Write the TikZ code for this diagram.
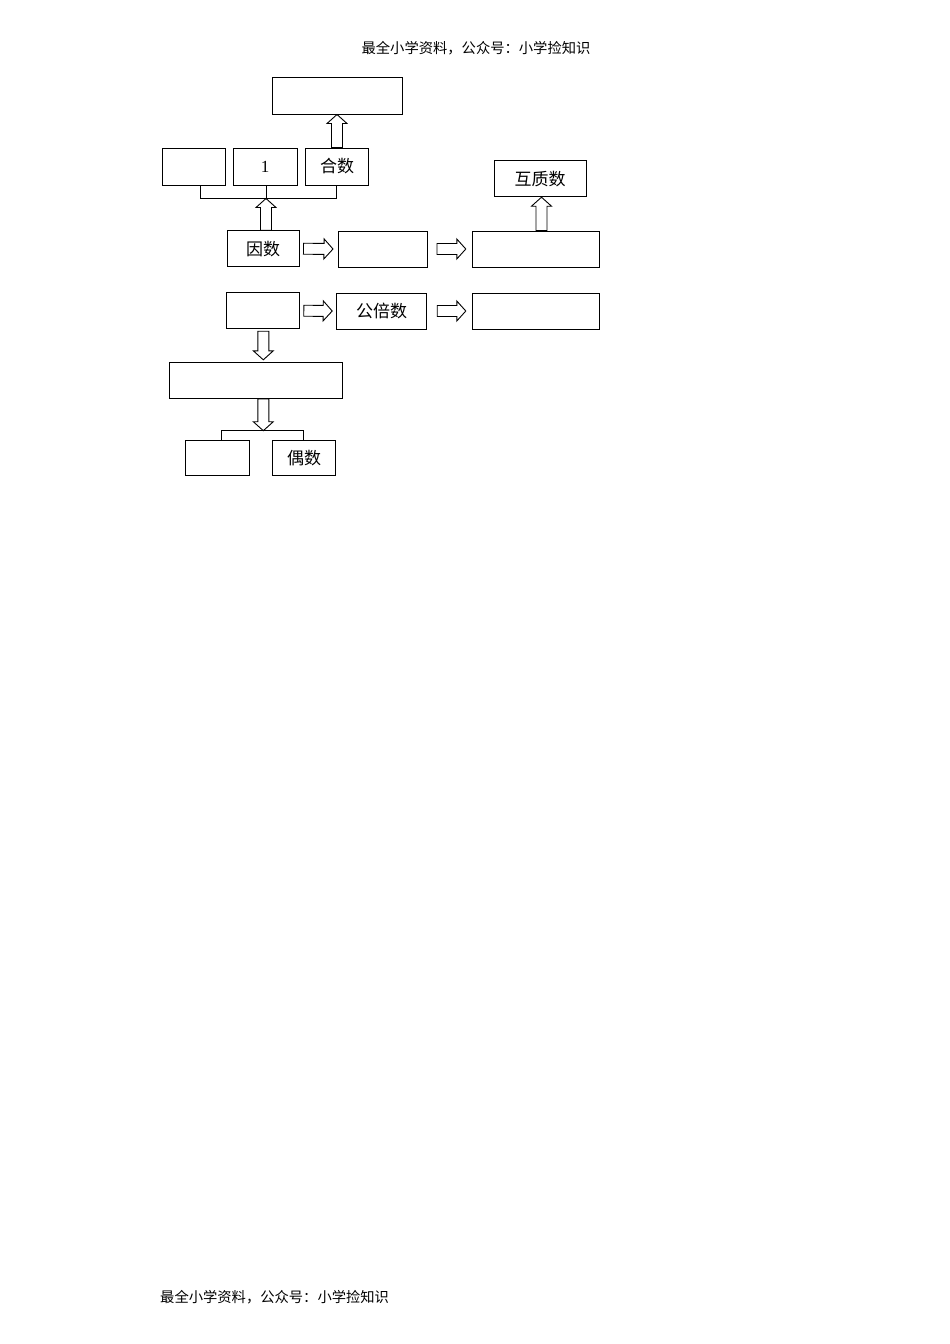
\documentclass[tikz,border=0pt]{standalone}
\usepackage{fontspec}
\newfontfamily\cjk{Noto Sans CJK SC}
\newfontfamily\serifnum{Liberation Serif}
\usetikzlibrary{calc}
\tikzset{
  box/.style={draw, line width=1pt, inner sep=0pt, font=\cjk\fontsize{17}{20}\selectfont},
  harrowline/.style={draw, line width=0.9pt, line join=miter},
  link/.style={draw, line width=1pt},
  hdr/.style={font=\cjk\fontsize{14.3}{17}\selectfont, inner sep=0pt}
}
\newcommand\hollowarr[2]{%
  \coordinate (hA) at (#1);
  \coordinate (hB) at (#2);
  \coordinate (hH) at ($(hB)!9pt!(hA)$);
  \path[harrowline] ($(hA)!5.5pt!90:(hB)$) -- ($(hH)!5.5pt!90:(hB)$) -- ($(hH)!10pt!90:(hB)$) -- (hB)
     -- ($(hH)!10pt!-90:(hB)$) -- ($(hH)!5.5pt!-90:(hB)$) -- ($(hA)!5.5pt!-90:(hB)$) -- cycle;
}
\begin{document}
\begin{tikzpicture}[x=1pt,y=-1pt]
\useasboundingbox (0,0) rectangle (950,1344);
\node[hdr] (h1) at (476,48) {最全小学资料，公众号：小学捡知识};
\node[hdr, anchor=west] (h2) at (160,1297) {最全小学资料，公众号：小学捡知识};

\node[box, minimum width=130pt, minimum height=37pt] (top) at (337,95.5) {};
\node[box, minimum width=63pt, minimum height=37pt] (nA) at (193.5,166.5) {};
\node[box, minimum width=64pt, minimum height=37pt] (n1) at (265,166.5) {\serifnum\fontsize{17}{20}\selectfont 1};
\node[box, minimum width=63pt, minimum height=37pt] (heshu) at (337,166.5) {合数};
\node[box, minimum width=92pt, minimum height=36pt] (hz) at (540,178.7) {互质数};
\node[box, minimum width=72pt, minimum height=36pt] (yinshu) at (263,248.7) {因数};
\node[box, minimum width=89pt, minimum height=36pt] (b2) at (383,249) {};
\node[box, minimum width=127pt, minimum height=36pt] (b3) at (535.8,249) {};
\node[box, minimum width=72.6pt, minimum height=36pt] (c1) at (263,310.7) {};
\node[box, minimum width=90pt, minimum height=36pt] (gbs) at (381.7,311) {公倍数};
\node[box, minimum width=127pt, minimum height=36pt] (c3) at (535.8,311) {};
\node[box, minimum width=172.7pt, minimum height=36pt] (big) at (256.3,380.3) {};
\node[box, minimum width=63.6pt, minimum height=35pt] (d1) at (217.5,457.7) {};
\node[box, minimum width=63.4pt, minimum height=35pt] (os) at (304,457.7) {偶数};

% top bracket
\coordinate (bj) at (266,198.5);
\coordinate (bl) at (200.3,198.5);
\coordinate (br) at (336.7,198.5);
\draw[link] (bl |- nA.south) -- (bl) -- (br) -- (br |- heshu.south);
\draw[link] (bj |- n1.south) -- (bj);
% bottom bracket
\coordinate (dj) at (263.3,430.7);
\coordinate (dl) at (221.7,430.7);
\coordinate (dr) at (303.3,430.7);
\draw[link] (dl |- d1.north) -- (dl) -- (dr) -- (dr |- os.north);

% hollow arrows
\hollowarr{bj |- yinshu.north}{bj}
\hollowarr{heshu.north}{top.south}
\coordinate (hzx) at (541.5,0);
\hollowarr{hzx |- b3.north}{hzx |- hz.south}
\hollowarr{$(yinshu.east)+(4,0)$}{$(b2.west)+(-5,0)$}
\hollowarr{$(b2.east)+(9,0)$}{$(b3.west)+(-6,0)$}
\hollowarr{$(c1.east)+(4,0)$}{$(gbs.west)+(-4,0)$}
\hollowarr{$(gbs.east)+(10,0)$}{$(c3.west)+(-6,0)$}
\hollowarr{$(c1.south)+(0.3,2)$}{$(c1.south |- big.north)+(0.3,-2)$}
\hollowarr{dj |- big.south}{dj}
\end{tikzpicture}
\end{document}
